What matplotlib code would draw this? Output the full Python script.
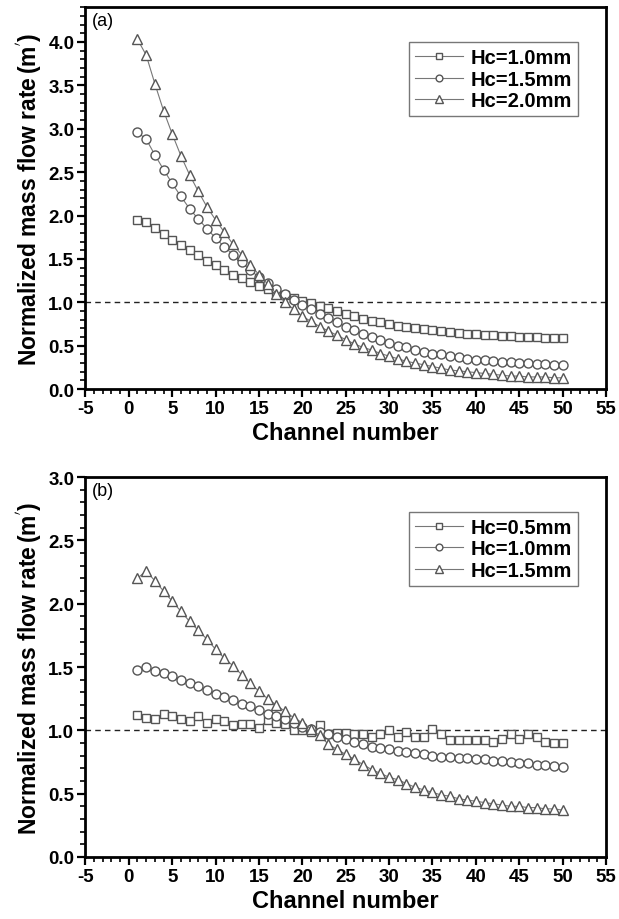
import matplotlib
matplotlib.use("Agg")
import matplotlib.pyplot as plt
from matplotlib.ticker import MultipleLocator, FormatStrFormatter

plt.rcParams['font.family'] = ['Liberation Sans', 'DejaVu Sans']

channels = list(range(1, 51))

# Panel (a)
a_labels = ["Hc=1.0mm", "Hc=1.5mm", "Hc=2.0mm"]
a_hc10 = [1.95, 1.92, 1.86, 1.79, 1.72, 1.66, 1.60, 1.54, 1.48, 1.43,
          1.37, 1.32, 1.28, 1.23, 1.19, 1.15, 1.11, 1.08, 1.05, 1.02,
          0.99, 0.96, 0.93, 0.90, 0.87, 0.84, 0.81, 0.79, 0.77, 0.75,
          0.73, 0.72, 0.70, 0.69, 0.68, 0.67, 0.66, 0.65, 0.64, 0.63,
          0.62, 0.62, 0.61, 0.61, 0.60, 0.60, 0.60, 0.59, 0.59, 0.59]
a_hc15 = [2.96, 2.88, 2.70, 2.53, 2.37, 2.22, 2.08, 1.96, 1.85, 1.74,
          1.64, 1.55, 1.46, 1.37, 1.29, 1.22, 1.15, 1.09, 1.03, 0.97,
          0.92, 0.87, 0.82, 0.77, 0.72, 0.68, 0.63, 0.60, 0.56, 0.53,
          0.50, 0.48, 0.45, 0.43, 0.41, 0.40, 0.38, 0.37, 0.35, 0.34,
          0.33, 0.32, 0.31, 0.31, 0.30, 0.30, 0.29, 0.29, 0.28, 0.28]
a_hc20 = [4.03, 3.85, 3.52, 3.21, 2.94, 2.69, 2.47, 2.28, 2.10, 1.95,
          1.81, 1.67, 1.55, 1.43, 1.32, 1.21, 1.10, 1.00, 0.92, 0.84,
          0.78, 0.72, 0.67, 0.62, 0.57, 0.52, 0.48, 0.45, 0.41, 0.38,
          0.35, 0.32, 0.30, 0.28, 0.26, 0.24, 0.22, 0.21, 0.20, 0.19,
          0.18, 0.17, 0.16, 0.15, 0.15, 0.14, 0.14, 0.14, 0.13, 0.13]

# Panel (b)
b_labels = ["Hc=0.5mm", "Hc=1.0mm", "Hc=1.5mm"]
b_hc05 = [1.12, 1.10, 1.09, 1.13, 1.11, 1.09, 1.07, 1.11, 1.06, 1.09,
          1.07, 1.04, 1.05, 1.05, 1.02, 1.08, 1.06, 1.05, 1.00, 1.00,
          0.99, 1.04, 0.97, 0.98, 0.98, 0.97, 0.97, 0.95, 0.97, 1.00,
          0.95, 0.99, 0.95, 0.95, 1.01, 0.97, 0.92, 0.92, 0.92, 0.92,
          0.92, 0.91, 0.93, 0.97, 0.93, 0.97, 0.95, 0.91, 0.90, 0.90]
b_hc10 = [1.48, 1.50, 1.47, 1.45, 1.43, 1.40, 1.37, 1.35, 1.32, 1.29,
          1.26, 1.24, 1.21, 1.19, 1.16, 1.13, 1.11, 1.09, 1.06, 1.03,
          1.01, 0.99, 0.97, 0.95, 0.93, 0.91, 0.89, 0.87, 0.86, 0.85,
          0.84, 0.83, 0.82, 0.81, 0.80, 0.79, 0.79, 0.78, 0.78, 0.77,
          0.77, 0.76, 0.76, 0.75, 0.74, 0.74, 0.73, 0.73, 0.72, 0.71]
b_hc15 = [2.20, 2.26, 2.18, 2.10, 2.02, 1.94, 1.86, 1.79, 1.72, 1.64,
          1.57, 1.51, 1.44, 1.37, 1.31, 1.25, 1.20, 1.15, 1.10, 1.06,
          1.01, 0.96, 0.89, 0.85, 0.81, 0.77, 0.73, 0.69, 0.66, 0.63,
          0.61, 0.58, 0.55, 0.53, 0.51, 0.49, 0.48, 0.46, 0.45, 0.44,
          0.43, 0.42, 0.41, 0.40, 0.40, 0.39, 0.39, 0.38, 0.38, 0.37]

x_ticks = [-5, 0, 5, 10, 15, 20, 25, 30, 35, 40, 45, 50, 55]

fig = plt.figure(figsize=(6.19, 9.20), dpi=100)
ax_a = fig.add_axes([0.138, 0.576, 0.841, 0.415])
ax_b = fig.add_axes([0.138, 0.0674, 0.841, 0.413])

markers = ['s', 'o', '^']
msizes = [6, 6.5, 7.5]
ecol = '#555555'

def draw(ax, series, labels, ylim, tag):
    for ys, lab, m, ms in zip(series, labels, markers, msizes):
        ax.plot(channels, ys, color='#777777', lw=0.8, marker=m, ms=ms,
                mfc='white', mec=ecol, mew=1.0, label=lab)
    ax.axhline(1.0, color='#222222', lw=1.0, ls=(0, (4, 3)), zorder=0)
    ax.set_xlim(-5, 55)
    ax.set_ylim(*ylim)
    ax.set_xticks(x_ticks)
    ax.set_xticklabels([str(t) for t in x_ticks])
    ax.yaxis.set_major_locator(MultipleLocator(0.5))
    ax.yaxis.set_minor_locator(MultipleLocator(0.1))
    ax.xaxis.set_minor_locator(MultipleLocator(1))
    ax.yaxis.set_major_formatter(FormatStrFormatter('%.1f'))
    ax.tick_params(which='major', direction='out', length=6, width=1.6,
                   labelsize=13.5, top=False, right=False, pad=2)
    ax.tick_params(which='minor', direction='out', length=3.5, width=1.2,
                   top=False, right=False)
    for lbl in ax.get_xticklabels() + ax.get_yticklabels():
        lbl.set_fontweight('bold')
    for s in ax.spines.values():
        s.set_linewidth(2.0)
    ax.set_xlabel('Channel number', fontsize=17, fontweight='bold', labelpad=3)
    ax.set_ylabel(r"Normalized mass flow rate$\,$(m$^{'}$)", fontsize=16.5,
                  fontweight='bold', labelpad=3)
    ax.text(0.012, 0.988, tag, transform=ax.transAxes, fontsize=13,
            va='top', ha='left')
    leg = ax.legend(loc='upper right', bbox_to_anchor=(0.946, 0.908),
                    prop={'weight': 'bold', 'size': 14.5}, frameon=True,
                    fancybox=False, edgecolor='#555555', handlelength=2.4,
                    handletextpad=0.35, borderpad=0.3, labelspacing=0.12,
                    borderaxespad=0.0, markerscale=0.75)
    leg.get_frame().set_linewidth(1.0)

draw(ax_a, [a_hc10, a_hc15, a_hc20], a_labels, (0, 4.4), '(a)')
draw(ax_b, [b_hc05, b_hc10, b_hc15], b_labels, (0, 3.0), '(b)')

fig.savefig('out.png', dpi=100)
